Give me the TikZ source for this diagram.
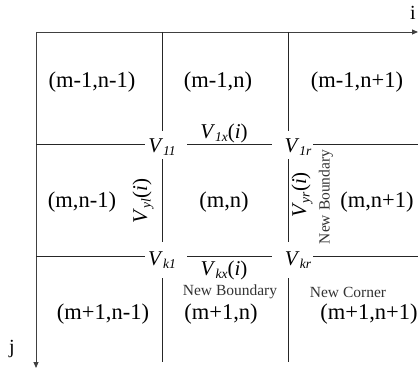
\documentclass[tikz,border=0pt]{standalone}
\usepackage{fontspec}
\setmainfont{Liberation Serif}
\usetikzlibrary{arrows.meta}
\newcommand{\Vsub}[2]{\textit{V}\raisebox{-0.35ex}{\fontsize{13.5}{13.5}\selectfont\textit{#1}}#2}
\begin{document}
\begin{tikzpicture}[x=1pt,y=-1pt,
  gridline/.style={line width=0.8pt, black!85},
  axisline/.style={line width=0.9pt, black!75, -{Triangle[length=6pt,width=5pt]}},
  cell/.style={font=\fontsize{22.5}{22.5}\selectfont, inner sep=0},
  vlab/.style={font=\fontsize{21}{21}\selectfont, inner sep=0},
  note/.style={font=\fontsize{15.5}{15.5}\selectfont, inner sep=0, black!80},
  axlab/.style={font=\fontsize{20}{20}\selectfont, inner sep=0}]
\useasboundingbox (0,0) rectangle (418,369);
% axes
\coordinate (O) at (36,32);
\coordinate (iend) at (418,32);
\coordinate (jend) at (36,368);
\draw[axisline] (O) -- (iend);
\draw[axisline] (O) -- (jend);
\node[axlab] (ilab) at (413,13) {i};
\node[axlab] (jlab) at (12,349) {j};
% horizontal grid lines
\coordinate (h1a) at (36,144); \coordinate (h1b) at (145,144);
\coordinate (h1c) at (187,144); \coordinate (h1d) at (272,144);
\coordinate (h1e) at (313,144); \coordinate (h1f) at (418,144);
\coordinate (h2a) at (36,256); \coordinate (h2b) at (145,256);
\coordinate (h2c) at (187,256); \coordinate (h2d) at (272,256);
\coordinate (h2e) at (313,256); \coordinate (h2f) at (418,256);
\draw[gridline] (h1a) -- (h1b) (h1c) -- (h1d) (h1e) -- (h1f);
\draw[gridline] (h2a) -- (h2b) (h2c) -- (h2d) (h2e) -- (h2f);
% vertical grid lines
\coordinate (v1a) at (162,32); \coordinate (v1b) at (162,131);
\coordinate (v1c) at (162,159); \coordinate (v1d) at (162,242);
\coordinate (v1e) at (162,278); \coordinate (v1f) at (162,362);
\coordinate (v2a) at (288,32); \coordinate (v2b) at (288,131);
\coordinate (v2c) at (288,159); \coordinate (v2d) at (288,242);
\coordinate (v2e) at (288,278); \coordinate (v2f) at (288,362);
\draw[gridline] (v1a) -- (v1b) (v1c) -- (v1d) (v1e) -- (v1f);
\draw[gridline] (v2a) -- (v2b) (v2c) -- (v2d) (v2e) -- (v2f);
% cell labels
\node[cell] (c11) at (92,82) {(m-1,n-1)};
\node[cell] (c12) at (218,82) {(m-1,n)};
\node[cell] (c13) at (357,82) {(m-1,n+1)};
\node[cell] (c21) at (82,202) {(m,n-1)};
\node[cell] (c22) at (224,202) {(m,n)};
\node[cell] (c23) at (377,202) {(m,n+1)};
\node[cell] (c31) at (103,314) {(m+1,n-1)};
\node[cell] (c32) at (221,314) {(m+1,n)};
\node[cell] (c33) at (369,314) {(m+1,n+1)};
% vertex labels
\node[vlab] (V11) at (162,147) {\Vsub{11}{}};
\node[vlab] (V1r) at (298,147) {\Vsub{1r}{}};
\node[vlab] (Vk1) at (162,260) {\Vsub{k1}{}};
\node[vlab] (Vkr) at (298,260) {\Vsub{kr}{}};
\node[vlab] (V1x) at (224,133) {\Vsub{1x}{(\textit{i})}};
\node[vlab] (Vkx) at (224,270) {\Vsub{kx}{(\textit{i})}};
\node[vlab, rotate=90] (Vyl) at (143,201) {\Vsub{yl}{(\textit{i})}};
\node[vlab, rotate=90] (Vyr) at (302,195) {\Vsub{yr}{(\textit{i})}};
% notes
\node[note, rotate=90] (nb1) at (326,197) {New Boundary};
\node[note] (nb2) at (230,292) {New Boundary};
\node[note] (nc) at (348,292) {New Corner};
\end{tikzpicture}
\end{document}
